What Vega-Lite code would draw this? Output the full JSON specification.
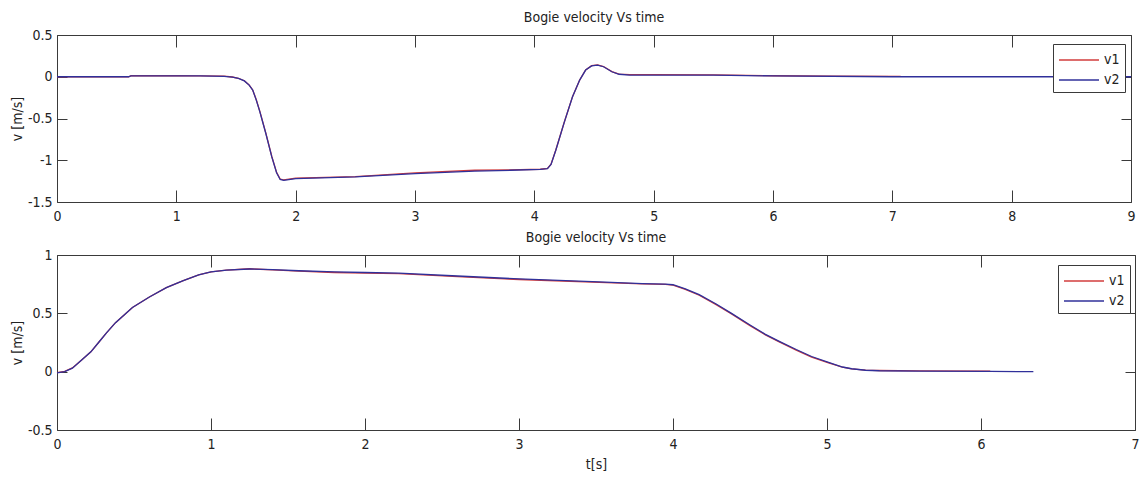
{
  "$schema": "https://vega.github.io/schema/vega-lite/v6.json",
  "background": "white",
  "padding": {"left": 9, "top": 10, "right": 2, "bottom": 2},
  "spacing": 53,
  "bounds": "flush",
  "datasets": {
    "top": [
      {"t": 0, "v": 0, "s": "v1"}, {"t": 0.6, "v": 0, "s": "v1"}, {"t": 0.62, "v": 0.012, "s": "v1"}, {"t": 1.0, "v": 0.012, "s": "v1"}, {"t": 1.2, "v": 0.01, "s": "v1"}, {"t": 1.4, "v": 0.008, "s": "v1"}, {"t": 1.47, "v": -0.003, "s": "v1"}, {"t": 1.52, "v": -0.018, "s": "v1"}, {"t": 1.57, "v": -0.048, "s": "v1"}, {"t": 1.61, "v": -0.098, "s": "v1"}, {"t": 1.64, "v": -0.158, "s": "v1"}, {"t": 1.67, "v": -0.275, "s": "v1"}, {"t": 1.7, "v": -0.415, "s": "v1"}, {"t": 1.75, "v": -0.675, "s": "v1"}, {"t": 1.8, "v": -0.955, "s": "v1"}, {"t": 1.84, "v": -1.145, "s": "v1"}, {"t": 1.87, "v": -1.225, "s": "v1"}, {"t": 1.9, "v": -1.235, "s": "v1"}, {"t": 2.0, "v": -1.215, "s": "v1"}, {"t": 2.5, "v": -1.195, "s": "v1"}, {"t": 3.0, "v": -1.15, "s": "v1"}, {"t": 3.5, "v": -1.12, "s": "v1"}, {"t": 3.8, "v": -1.115, "s": "v1"}, {"t": 4.05, "v": -1.108, "s": "v1"}, {"t": 4.11, "v": -1.098, "s": "v1"}, {"t": 4.14, "v": -1.048, "s": "v1"}, {"t": 4.18, "v": -0.878, "s": "v1"}, {"t": 4.25, "v": -0.548, "s": "v1"}, {"t": 4.32, "v": -0.238, "s": "v1"}, {"t": 4.38, "v": -0.038, "s": "v1"}, {"t": 4.43, "v": 0.082, "s": "v1"}, {"t": 4.48, "v": 0.132, "s": "v1"}, {"t": 4.53, "v": 0.142, "s": "v1"}, {"t": 4.58, "v": 0.122, "s": "v1"}, {"t": 4.65, "v": 0.062, "s": "v1"}, {"t": 4.71, "v": 0.032, "s": "v1"}, {"t": 4.8, "v": 0.025, "s": "v1"}, {"t": 5.0, "v": 0.025, "s": "v1"}, {"t": 5.5, "v": 0.022, "s": "v1"}, {"t": 6.0, "v": 0.012, "s": "v1"}, {"t": 6.5, "v": 0.008, "s": "v1"}, {"t": 7.07, "v": 0.005, "s": "v1"},
      {"t": 0, "v": 0, "s": "v2"}, {"t": 0.6, "v": 0, "s": "v2"}, {"t": 0.62, "v": 0.01, "s": "v2"}, {"t": 1.0, "v": 0.01, "s": "v2"}, {"t": 1.2, "v": 0.01, "s": "v2"}, {"t": 1.4, "v": 0.005, "s": "v2"}, {"t": 1.47, "v": -0.005, "s": "v2"}, {"t": 1.52, "v": -0.02, "s": "v2"}, {"t": 1.57, "v": -0.05, "s": "v2"}, {"t": 1.61, "v": -0.1, "s": "v2"}, {"t": 1.64, "v": -0.16, "s": "v2"}, {"t": 1.67, "v": -0.28, "s": "v2"}, {"t": 1.7, "v": -0.42, "s": "v2"}, {"t": 1.75, "v": -0.68, "s": "v2"}, {"t": 1.8, "v": -0.96, "s": "v2"}, {"t": 1.84, "v": -1.15, "s": "v2"}, {"t": 1.87, "v": -1.23, "s": "v2"}, {"t": 1.9, "v": -1.24, "s": "v2"}, {"t": 2.0, "v": -1.22, "s": "v2"}, {"t": 2.5, "v": -1.2, "s": "v2"}, {"t": 3.0, "v": -1.16, "s": "v2"}, {"t": 3.5, "v": -1.13, "s": "v2"}, {"t": 3.8, "v": -1.12, "s": "v2"}, {"t": 4.05, "v": -1.11, "s": "v2"}, {"t": 4.11, "v": -1.1, "s": "v2"}, {"t": 4.14, "v": -1.05, "s": "v2"}, {"t": 4.18, "v": -0.88, "s": "v2"}, {"t": 4.25, "v": -0.55, "s": "v2"}, {"t": 4.32, "v": -0.24, "s": "v2"}, {"t": 4.38, "v": -0.04, "s": "v2"}, {"t": 4.43, "v": 0.08, "s": "v2"}, {"t": 4.48, "v": 0.13, "s": "v2"}, {"t": 4.53, "v": 0.14, "s": "v2"}, {"t": 4.58, "v": 0.12, "s": "v2"}, {"t": 4.65, "v": 0.06, "s": "v2"}, {"t": 4.71, "v": 0.03, "s": "v2"}, {"t": 4.8, "v": 0.02, "s": "v2"}, {"t": 5.0, "v": 0.02, "s": "v2"}, {"t": 5.5, "v": 0.02, "s": "v2"}, {"t": 6.0, "v": 0.01, "s": "v2"}, {"t": 7.0, "v": 0.0, "s": "v2"}, {"t": 9.0, "v": 0.0, "s": "v2"}
    ],
    "bottom": [
      {"t": 0, "v": -0.008, "s": "v1"}, {"t": 0.05, "v": 0.002, "s": "v1"}, {"t": 0.1, "v": 0.032, "s": "v1"}, {"t": 0.16, "v": 0.1, "s": "v1"}, {"t": 0.22, "v": 0.17, "s": "v1"}, {"t": 0.27, "v": 0.25, "s": "v1"}, {"t": 0.32, "v": 0.33, "s": "v1"}, {"t": 0.38, "v": 0.42, "s": "v1"}, {"t": 0.49, "v": 0.55, "s": "v1"}, {"t": 0.6, "v": 0.64, "s": "v1"}, {"t": 0.71, "v": 0.72, "s": "v1"}, {"t": 0.82, "v": 0.78, "s": "v1"}, {"t": 0.92, "v": 0.83, "s": "v1"}, {"t": 1.0, "v": 0.855, "s": "v1"}, {"t": 1.1, "v": 0.87, "s": "v1"}, {"t": 1.25, "v": 0.882, "s": "v1"}, {"t": 1.4, "v": 0.872, "s": "v1"}, {"t": 1.57, "v": 0.862, "s": "v1"}, {"t": 1.8, "v": 0.85, "s": "v1"}, {"t": 2.0, "v": 0.844, "s": "v1"}, {"t": 2.22, "v": 0.84, "s": "v1"}, {"t": 2.6, "v": 0.815, "s": "v1"}, {"t": 3.0, "v": 0.79, "s": "v1"}, {"t": 3.52, "v": 0.765, "s": "v1"}, {"t": 3.8, "v": 0.752, "s": "v1"}, {"t": 3.95, "v": 0.748, "s": "v1"}, {"t": 4.0, "v": 0.742, "s": "v1"}, {"t": 4.08, "v": 0.706, "s": "v1"}, {"t": 4.17, "v": 0.655, "s": "v1"}, {"t": 4.28, "v": 0.575, "s": "v1"}, {"t": 4.38, "v": 0.495, "s": "v1"}, {"t": 4.5, "v": 0.395, "s": "v1"}, {"t": 4.6, "v": 0.315, "s": "v1"}, {"t": 4.69, "v": 0.255, "s": "v1"}, {"t": 4.8, "v": 0.185, "s": "v1"}, {"t": 4.9, "v": 0.125, "s": "v1"}, {"t": 5.01, "v": 0.075, "s": "v1"}, {"t": 5.1, "v": 0.038, "s": "v1"}, {"t": 5.16, "v": 0.024, "s": "v1"}, {"t": 5.25, "v": 0.014, "s": "v1"}, {"t": 5.34, "v": 0.01, "s": "v1"}, {"t": 5.6, "v": 0.006, "s": "v1"}, {"t": 6.06, "v": 0.004, "s": "v1"},
      {"t": 0, "v": -0.01, "s": "v2"}, {"t": 0.05, "v": 0.0, "s": "v2"}, {"t": 0.1, "v": 0.03, "s": "v2"}, {"t": 0.16, "v": 0.1, "s": "v2"}, {"t": 0.22, "v": 0.17, "s": "v2"}, {"t": 0.27, "v": 0.25, "s": "v2"}, {"t": 0.32, "v": 0.33, "s": "v2"}, {"t": 0.38, "v": 0.42, "s": "v2"}, {"t": 0.49, "v": 0.55, "s": "v2"}, {"t": 0.6, "v": 0.64, "s": "v2"}, {"t": 0.71, "v": 0.72, "s": "v2"}, {"t": 0.82, "v": 0.78, "s": "v2"}, {"t": 0.92, "v": 0.83, "s": "v2"}, {"t": 1.0, "v": 0.855, "s": "v2"}, {"t": 1.1, "v": 0.87, "s": "v2"}, {"t": 1.25, "v": 0.88, "s": "v2"}, {"t": 1.4, "v": 0.875, "s": "v2"}, {"t": 1.57, "v": 0.865, "s": "v2"}, {"t": 1.8, "v": 0.855, "s": "v2"}, {"t": 2.0, "v": 0.85, "s": "v2"}, {"t": 2.22, "v": 0.845, "s": "v2"}, {"t": 2.6, "v": 0.82, "s": "v2"}, {"t": 3.0, "v": 0.795, "s": "v2"}, {"t": 3.52, "v": 0.77, "s": "v2"}, {"t": 3.8, "v": 0.755, "s": "v2"}, {"t": 3.95, "v": 0.75, "s": "v2"}, {"t": 4.0, "v": 0.745, "s": "v2"}, {"t": 4.08, "v": 0.71, "s": "v2"}, {"t": 4.17, "v": 0.66, "s": "v2"}, {"t": 4.28, "v": 0.58, "s": "v2"}, {"t": 4.38, "v": 0.5, "s": "v2"}, {"t": 4.5, "v": 0.4, "s": "v2"}, {"t": 4.6, "v": 0.32, "s": "v2"}, {"t": 4.69, "v": 0.26, "s": "v2"}, {"t": 4.8, "v": 0.19, "s": "v2"}, {"t": 4.9, "v": 0.13, "s": "v2"}, {"t": 5.01, "v": 0.08, "s": "v2"}, {"t": 5.1, "v": 0.04, "s": "v2"}, {"t": 5.16, "v": 0.025, "s": "v2"}, {"t": 5.25, "v": 0.012, "s": "v2"}, {"t": 5.34, "v": 0.008, "s": "v2"}, {"t": 5.6, "v": 0.005, "s": "v2"}, {"t": 6.06, "v": 0.002, "s": "v2"}, {"t": 6.34, "v": 0.0, "s": "v2"}
    ]
  },
  "vconcat": [
    {
      "width": 1074,
      "height": 167,
      "title": {"text": "Bogie velocity Vs time"},
      "data": {"name": "top"},
      "layer": [
        {
          "mark": {"type": "line", "strokeWidth": 1.3},
          "encoding": {
            "x": {"field": "t", "type": "quantitative", "scale": {"domain": [0, 9], "nice": false, "zero": false}, "axis": {"values": [0, 1, 2, 3, 4, 5, 6, 7, 8, 9], "title": null}},
            "y": {"field": "v", "type": "quantitative", "scale": {"domain": [-1.5, 0.5], "nice": false, "zero": false}, "axis": {"values": [-1.5, -1, -0.5, 0, 0.5], "title": "v [m/s]"}},
            "color": {"field": "s", "type": "nominal", "scale": {"domain": ["v1", "v2"], "range": ["#d23c3c", "#30309a"]}, "legend": {"orient": "none", "legendX": 996, "legendY": 9, "title": null}}
          }
        },
        {
          "mark": {"type": "line", "opacity": 0},
          "encoding": {
            "x": {"field": "t", "type": "quantitative", "scale": {"domain": [0, 9], "nice": false, "zero": false}, "axis": {"orient": "top", "values": [0, 1, 2, 3, 4, 5, 6, 7, 8, 9], "labels": false, "title": null}},
            "y": {"field": "v", "type": "quantitative", "scale": {"domain": [-1.5, 0.5], "nice": false, "zero": false}, "axis": {"orient": "right", "values": [-1.5, -1, -0.5, 0, 0.5], "labels": false, "title": null}},
            "detail": {"field": "s"}
          }
        }
      ],
      "resolve": {"axis": {"x": "independent", "y": "independent"}}
    },
    {
      "width": 1078,
      "height": 175,
      "title": {"text": "Bogie velocity Vs time"},
      "data": {"name": "bottom"},
      "layer": [
        {
          "mark": {"type": "line", "strokeWidth": 1.3},
          "encoding": {
            "x": {"field": "t", "type": "quantitative", "scale": {"domain": [0, 7], "nice": false, "zero": false}, "axis": {"values": [0, 1, 2, 3, 4, 5, 6, 7], "title": "t[s]", "titlePadding": 6}},
            "y": {"field": "v", "type": "quantitative", "scale": {"domain": [-0.5, 1], "nice": false, "zero": false}, "axis": {"values": [-0.5, 0, 0.5, 1], "title": "v [m/s]"}},
            "color": {"field": "s", "type": "nominal", "scale": {"domain": ["v1", "v2"], "range": ["#d23c3c", "#30309a"]}, "legend": {"orient": "none", "legendX": 1001, "legendY": 10, "title": null}}
          }
        },
        {
          "mark": {"type": "line", "opacity": 0},
          "encoding": {
            "x": {"field": "t", "type": "quantitative", "scale": {"domain": [0, 7], "nice": false, "zero": false}, "axis": {"orient": "top", "values": [0, 1, 2, 3, 4, 5, 6, 7], "labels": false, "title": null}},
            "y": {"field": "v", "type": "quantitative", "scale": {"domain": [-0.5, 1], "nice": false, "zero": false}, "axis": {"orient": "right", "values": [-0.5, 0, 0.5, 1], "labels": false, "title": null}},
            "detail": {"field": "s"}
          }
        }
      ],
      "resolve": {"axis": {"x": "independent", "y": "independent"}}
    }
  ],
  "resolve": {"scale": {"color": "independent"}, "legend": {"color": "independent"}},
  "config": {
    "view": {"stroke": "#3a3a3a", "strokeWidth": 1},
    "axis": {
      "domain": false, "grid": false, "tickColor": "#3a3a3a", "tickWidth": 1,
      "labelFont": "DejaVu Sans Condensed, Liberation Sans, sans-serif", "labelFontSize": 14, "labelColor": "#222222",
      "titleFont": "DejaVu Sans Condensed, Liberation Sans, sans-serif", "titleFontSize": 14, "titleFontWeight": "normal", "titleColor": "#222222",
      "labelFlush": false, "labelOverlap": false, "labelBound": false,
      "labelExpr": "replace(format(datum.value, '~g'), '−', '-')"
    },
    "axisX": {"tickSize": -12, "labelPadding": 19},
    "axisY": {"tickSize": -10, "labelPadding": 15, "titlePadding": 3},
    "title": {"font": "DejaVu Sans Condensed, Liberation Sans, sans-serif", "fontSize": 14, "fontWeight": "normal", "color": "#222222", "offset": 3, "anchor": "middle"},
    "legend": {
      "symbolType": "M-1,0H3", "symbolSize": 400, "symbolStrokeWidth": 1.5, "rowPadding": 2,
      "labelFont": "DejaVu Sans Condensed, Liberation Sans, sans-serif", "labelFontSize": 14, "labelColor": "#222222", "labelOffset": 24,
      "strokeColor": "#3a3a3a", "fillColor": "white", "padding": 5, "cornerRadius": 0
    }
  }
}
